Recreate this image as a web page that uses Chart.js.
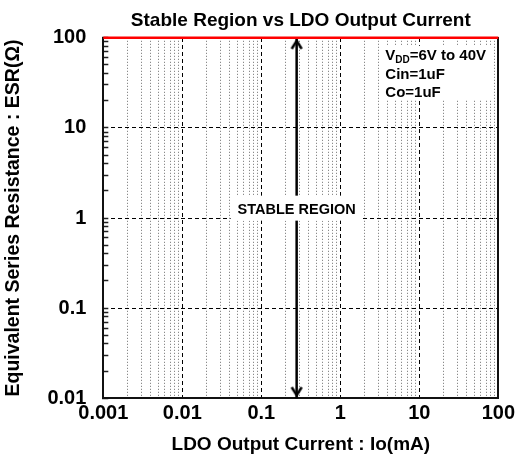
<!DOCTYPE html>
<html>
<head>
<meta charset="utf-8">
<script src="https://cdn.jsdelivr.net/npm/chart.js@4.4.1/dist/chart.umd.min.js"></script>
<style>
  html, body { margin: 0; padding: 0; background: #fff; }
  canvas { display: block; }
</style>
</head>
<body>
<canvas id="chart" width="518" height="461"></canvas>
<script>
  const xDecades = [0.001, 0.01, 0.1, 1, 10, 100];
  const xTickLabels = ["0.001", "0.01", "0.1", "1", "10", "100"];
  const yDecades = [0.01, 0.1, 1, 10, 100];
  const yTickLabels = ["0.01", "0.1", "1", "10", "100"];
  const minorSteps = [2, 3, 4, 5, 6, 7, 8, 9];

  // upper ESR limit (red line)
  const limitX = [0.001, 100];
  const limitY = [100, 100];

  // double arrow marking the stable region
  const arrowX = [0.28, 0.28];
  const arrowY = [0.01, 100];

  const regionText = "STABLE REGION";
  const regionAt = [0.28, 1.27];
  const noteLines = [
    { t: "V", sub: "DD", rest: "=6V to 40V" },
    { t: "Cin=1uF" },
    { t: "Co=1uF" },
  ];

  const FONT = "'Liberation Sans', Arial, sans-serif";
  Chart.defaults.font.family = FONT;
  Chart.defaults.color = "#000";

  function buildTicks(decades, labels){
    const out = [];
    decades.forEach((d, i) => {
      out.push({ value: d, txt: labels[i], decade: true, inner: i > 0 && i < decades.length - 1 });
      if(i < decades.length - 1){
        minorSteps.forEach(s => out.push({ value: d * s, txt: "", decade: false, inner: false }));
      }
    });
    return out;
  }

  function chevron(up){
    const c = document.createElement("canvas");
    c.width = 16; c.height = 30;
    const g = c.getContext("2d");
    g.strokeStyle = "#000";
    g.lineWidth = 2.5;
    g.beginPath();
    if(up){ g.moveTo(3, 26); g.lineTo(8, 18); g.lineTo(13, 26); }
    else { g.moveTo(3, 4); g.lineTo(8, 12); g.lineTo(13, 4); }
    g.stroke();
    return c;
  }

  const pts = (xs, ys) => xs.map((x, i) => ({ x, y: ys[i] }));

  const overlay = {
    id: "overlay",
    afterDatasetsDraw(chart){
      const { ctx, chartArea: a, scales } = chart;
      ctx.save();

      const cx = scales.x.getPixelForValue(regionAt[0]);
      const cy = scales.y.getPixelForValue(regionAt[1]);
      ctx.fillStyle = "#fff";
      ctx.fillRect(cx - 66, cy - 13, 131, 25);
      ctx.fillStyle = "#000";
      ctx.font = `bold 14.5px ${FONT}`;
      ctx.textAlign = "center";
      ctx.textBaseline = "middle";
      ctx.fillText(regionText, cx, cy + 1);

      const bx = a.right - 116, by = a.top + 8;
      ctx.fillStyle = "#fff";
      ctx.fillRect(bx, by, 110, 54);
      ctx.fillStyle = "#000";
      ctx.textAlign = "left";
      ctx.textBaseline = "alphabetic";
      const base = [14, 33, 51];
      noteLines.forEach((ln, i) => {
        let x = bx + 3;
        const y = by + base[i];
        ctx.font = `bold 15px ${FONT}`;
        ctx.fillText(ln.t, x, y);
        x += ctx.measureText(ln.t).width;
        if(ln.sub){
          ctx.font = `bold 10px ${FONT}`;
          ctx.fillText(ln.sub, x, y + 3);
          x += ctx.measureText(ln.sub).width;
          ctx.font = `bold 15px ${FONT}`;
          ctx.fillText(ln.rest, x, y);
        }
      });
      ctx.restore();
    }
  };

  const clear = "rgba(0,0,0,0)";

  new Chart(document.getElementById("chart"), {
    type: "line",
    data: {
      datasets: [
        {
          data: pts(limitX, limitY),
          borderColor: "#ff0000",
          borderWidth: 2.5,
          pointRadius: 0,
          clip: false,
        },
        {
          data: pts(arrowX, arrowY),
          borderColor: "#000",
          borderWidth: 2.5,
          pointRadius: 3,
          pointStyle: [chevron(false), chevron(true)],
          clip: false,
        },
      ]
    },
    options: {
      responsive: false,
      animation: false,
      events: [],
      layout: { padding: { left: 0, right: 17, top: 0, bottom: 0 } },
      plugins: { legend: { display: false }, tooltip: { enabled: false } },
      scales: {
        x: {
          type: "logarithmic",
          position: "bottom",
          min: 0.001, max: 100,
          afterBuildTicks: (s) => { s.ticks = buildTicks(xDecades, xTickLabels); },
          grid: {
            color: (c) => (c.tick && !c.tick.decade) ? "#6e6e6e" : clear,
            lineWidth: 1,
            drawTicks: false,
          },
          border: { color: "#111", width: 2, dash: [1, 2] },
          ticks: {
            autoSkip: false, maxRotation: 0, padding: 3,
            font: { size: 20, weight: "bold" },
            callback: (v, i, t) => t[i].txt,
          },
          title: {
            display: true,
            text: "LDO Output Current : Io(mA)",
            font: { size: 19, weight: "bold" },
            padding: { top: 5, bottom: 5 },
          },
        },
        x2: {
          type: "logarithmic",
          position: "top",
          min: 0.001, max: 100,
          afterBuildTicks: (s) => { s.ticks = buildTicks(xDecades, xTickLabels); },
          grid: {
            color: (c) => (c.tick && c.tick.inner) ? "#000" : clear,
            lineWidth: 1,
            drawTicks: false,
          },
          border: { display: false, dash: [4, 3] },
          ticks: { display: false },
          title: {
            display: true,
            text: "Stable Region vs LDO Output Current",
            font: { size: 19, weight: "bold" },
            padding: { top: 9, bottom: 6 },
          },
        },
        y: {
          type: "logarithmic",
          position: "left",
          min: 0.01, max: 100,
          afterBuildTicks: (s) => { s.ticks = buildTicks(yDecades, yTickLabels); },
          grid: {
            color: (c) => (c.tick && c.tick.inner) ? "#000" : clear,
            lineWidth: 1,
            tickColor: "#222",
            tickLength: -5,
            tickWidth: 1.5,
          },
          border: { color: "#111", width: 2, dash: [4, 3] },
          ticks: {
            autoSkip: false, padding: 22,
            font: { size: 20, weight: "bold" },
            callback: (v, i, t) => t[i].txt,
          },
          title: {
            display: true,
            text: "Equivalent Series Resistance : ESR(Ω)",
            font: { size: 19.5, weight: "bold" },
            padding: { top: 2, bottom: 0 },
          },
        },
        yR: {
          type: "logarithmic",
          position: "right",
          min: 0.01, max: 100,
          grid: { display: false, drawTicks: false },
          border: { color: "#111", width: 2 },
          ticks: { display: false },
        },
      }
    },
    plugins: [overlay]
  });
</script>
</body>
</html>
